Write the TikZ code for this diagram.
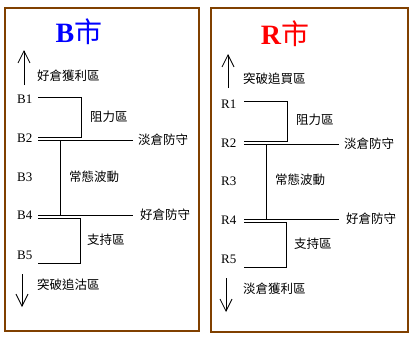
\documentclass[tikz,border=0pt]{standalone}
\usepackage{fontspec}
\setmainfont{Liberation Serif}
\newfontfamily\cjk{Noto Sans CJK TC}
\usepackage{tikz}
\usetikzlibrary{arrows.meta}
\definecolor{boxbrown}{RGB}{128,64,0}

\begin{document}
\begin{tikzpicture}[
    x=1pt, y=-1pt,
    panel/.style={draw=boxbrown, line width=1.2pt},
    title/.style={font=\fontsize{28}{28}\selectfont\bfseries, inner sep=0pt},
    lbl/.style={font=\fontsize{13}{13}\selectfont, anchor=west, inner sep=0pt},
    zh/.style={font=\cjk\fontsize{12.5}{13}\selectfont, anchor=west, inner sep=0pt},
    level/.style={line width=0.8pt},
    trend/.style={-{Straight Barb[length=12pt, width=12pt]}, line width=0.8pt}
]
\useasboundingbox (0,0) rectangle (415,340);

% 枠
\draw[panel] (5,8) rectangle (199,331);
\draw[panel] (211,8) rectangle (408,332);

% B市
\begin{scope}
\node[title, text=blue] (Btitle) at (79,32) {B{\cjk\mdseries 市}};

% 上の矢印
\coordinate (Bup0) at (24,85);
\coordinate (Bup1) at (24,50);
\draw[trend] (Bup0) -- (Bup1);
\node[zh] (Bupt) at (37,76) {好倉獲利區};

% 価格
\node[lbl] (B1) at (17,99) {B1};
\node[lbl] (B2) at (17,138) {B2};
\node[lbl] (B3) at (17,177) {B3};
\node[lbl] (B4) at (17,215) {B4};
\node[lbl] (B5) at (17,255) {B5};

% 阻力區
\coordinate (Bra) at (38,97);
\coordinate (Brb) at (81,97);
\coordinate (Brc) at (81,137);
\coordinate (Brd) at (38,137);
\draw[level] (Bra) -- (Brb) -- (Brc) -- (Brd);
\node[zh] (Brt) at (90,117) {阻力區};

% 淡倉防守
\coordinate (Bsa) at (38,140);
\coordinate (Bsb) at (133,140);
\draw[level] (Bsa) -- (Bsb);
\node[zh] (Bst) at (138,140) {淡倉防守};

% 常態波動
\coordinate (Bva) at (60,140);
\coordinate (Bvb) at (60,215);
\draw[level] (Bva) -- (Bvb);
\node[zh] (Bvt) at (69,177) {常態波動};

% 好倉防守
\coordinate (Bla) at (38,215);
\coordinate (Blb) at (133,215);
\draw[level] (Bla) -- (Blb);
\node[zh] (Blt) at (140,215) {好倉防守};

% 支持區
\coordinate (Bpa) at (38,218);
\coordinate (Bpb) at (80,218);
\coordinate (Bpc) at (80,263);
\coordinate (Bpd) at (38,263);
\draw[level] (Bpa) -- (Bpb) -- (Bpc) -- (Bpd);
\node[zh] (Bpt) at (87,240) {支持區};

% 下の矢印
\coordinate (Bdn0) at (22,274);
\coordinate (Bdn1) at (22,307);
\draw[trend] (Bdn0) -- (Bdn1);
\node[zh] (Bdnt) at (37,285) {突破追沽區};
\end{scope}

% R市
\begin{scope}[shift={(206,4)}]
\node[title, text=red] (Rtitle) at (79,30) {R{\cjk\mdseries 市}};

% 上の矢印
\coordinate (Rup0) at (22,84);
\coordinate (Rup1) at (22,50);
\draw[trend] (Rup0) -- (Rup1);
\node[zh] (Rupt) at (37,75) {突破追買區};

% 価格
\node[lbl] (R1) at (15,100) {R1};
\node[lbl] (R2) at (15,139) {R2};
\node[lbl] (R3) at (15,177) {R3};
\node[lbl] (R4) at (15,216) {R4};
\node[lbl] (R5) at (15,255) {R5};

% 阻力區
\coordinate (Rra) at (38,97);
\coordinate (Rrb) at (81,97);
\coordinate (Rrc) at (81,137);
\coordinate (Rrd) at (38,137);
\draw[level] (Rra) -- (Rrb) -- (Rrc) -- (Rrd);
\node[zh] (Rrt) at (90,116) {阻力區};

% 淡倉防守
\coordinate (Rsa) at (38,140);
\coordinate (Rsb) at (133,140);
\draw[level] (Rsa) -- (Rsb);
\node[zh] (Rst) at (138,140) {淡倉防守};

% 常態波動
\coordinate (Rva) at (60,140);
\coordinate (Rvb) at (60,215);
\draw[level] (Rva) -- (Rvb);
\node[zh] (Rvt) at (69,176) {常態波動};

% 好倉防守
\coordinate (Rla) at (38,215);
\coordinate (Rlb) at (133,215);
\draw[level] (Rla) -- (Rlb);
\node[zh] (Rlt) at (140,215) {好倉防守};

% 支持區
\coordinate (Rpa) at (38,218);
\coordinate (Rpb) at (80,218);
\coordinate (Rpc) at (80,263);
\coordinate (Rpd) at (38,263);
\draw[level] (Rpa) -- (Rpb) -- (Rpc) -- (Rpd);
\node[zh] (Rpt) at (88,240) {支持區};

% 下の矢印
\coordinate (Rdn0) at (20,274);
\coordinate (Rdn1) at (20,308);
\draw[trend] (Rdn0) -- (Rdn1);
\node[zh] (Rdnt) at (37,285) {淡倉獲利區};
\end{scope}

\end{tikzpicture}
\end{document}
